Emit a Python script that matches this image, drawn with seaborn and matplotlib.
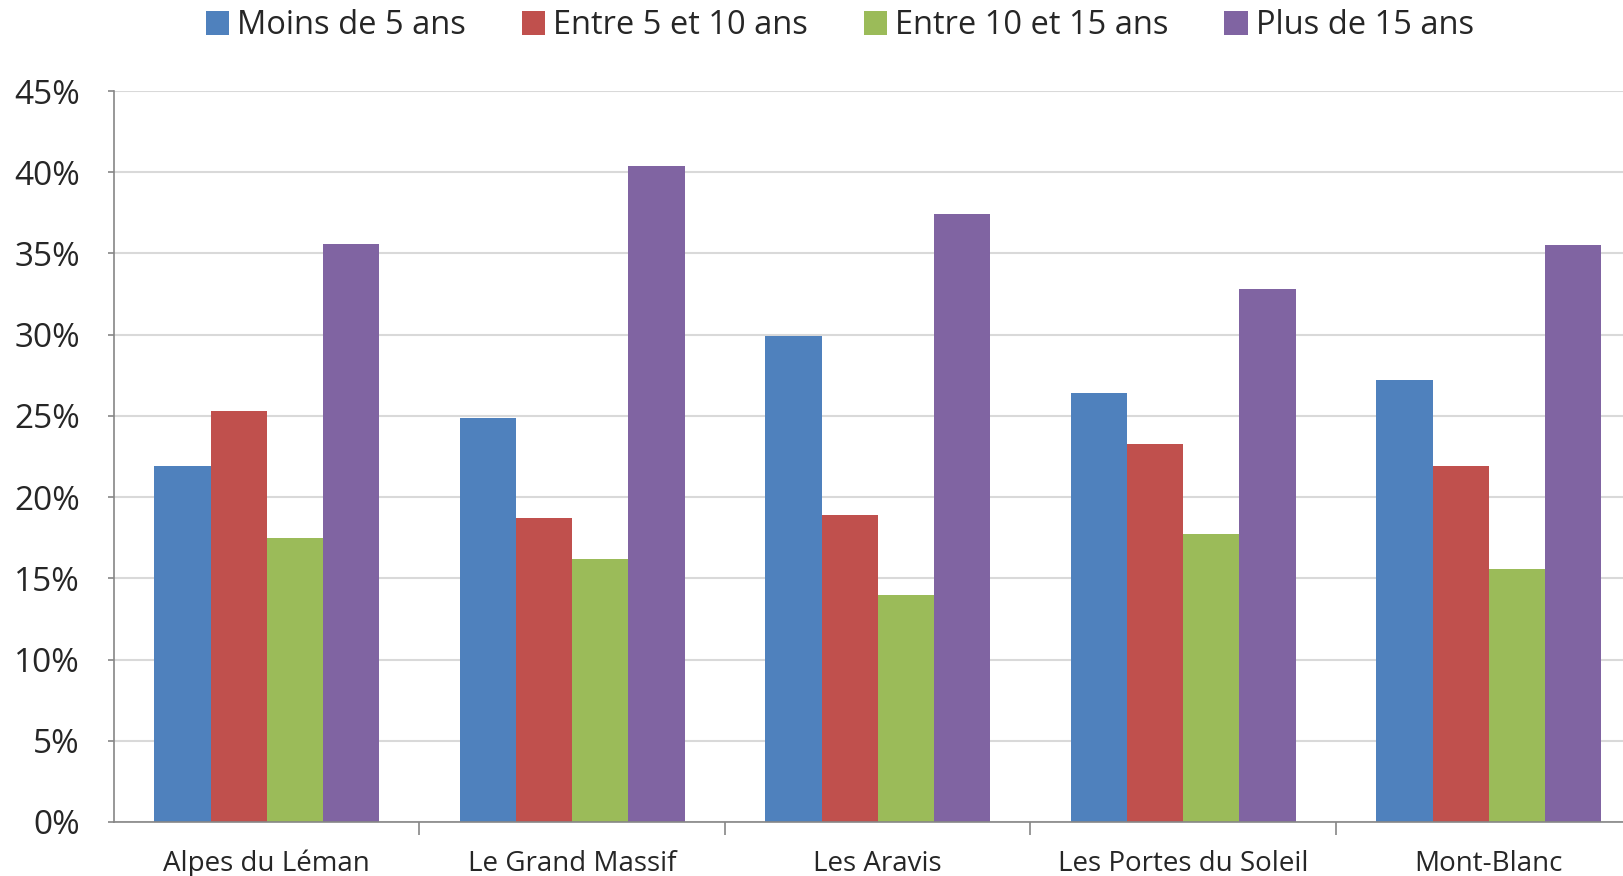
import pandas as pd
import matplotlib.pyplot as plt
import seaborn as sb

massifs = ["Alpes du Léman", "Le Grand Massif", "Les Aravis", "Les Portes du Soleil", "Mont-Blanc"]
tranches = ["Moins de 5 ans", "Entre 5 et 10 ans", "Entre 10 et 15 ans", "Plus de 15 ans"]
moins_5 = [21.9, 24.9, 29.9, 26.4, 27.2]
entre_5_10 = [25.3, 18.7, 18.9, 23.3, 21.9]
entre_10_15 = [17.5, 16.2, 14.0, 17.7, 15.6]
plus_15 = [35.6, 40.4, 37.4, 32.8, 35.5]
couleurs = ["#4F81BD", "#C0504D", "#9BBB59", "#8064A2"]

rows = []
for tranche, vals in zip(tranches, [moins_5, entre_5_10, entre_10_15, plus_15]):
    for m, v in zip(massifs, vals):
        rows.append({"massif": m, "tranche": tranche, "part": v})
df = pd.DataFrame(rows)

sb.set_style("white")
plt.rcParams["font.family"] = ["Open Sans", "DejaVu Sans"]

fig = plt.figure(figsize=(16.24, 8.76), dpi=100)
ax = fig.add_axes([114 / 1624, 1 - 822 / 876, 5 * 305.5 / 1624, (822 - 91) / 876])

sb.barplot(data=df, x="massif", y="part", hue="tranche", hue_order=tranches,
           palette=couleurs, width=0.735, saturation=1, ax=ax, linewidth=0)

ax.set_xlim(-0.5, 4.5)
ax.set_ylim(0, 45)
ax.set_yticks(range(0, 50, 5))
ax.set_yticklabels([f"{v}%" for v in range(0, 50, 5)])
ax.set_xlabel("")
ax.set_ylabel("")
ax.yaxis.grid(True, color="#d9d9d9", linewidth=1.5)
ax.set_axisbelow(True)

for s in ["top", "right"]:
    ax.spines[s].set_visible(False)
for s in ["left", "bottom"]:
    ax.spines[s].set_color("#868686")
    ax.spines[s].set_linewidth(1.2)

# ticks between groups, labels centred without a tick
ax.set_xticks([0.5, 1.5, 2.5, 3.5], minor=True)
ax.tick_params(axis="x", which="major", length=0, pad=20, labelsize=20)
ax.tick_params(axis="x", which="minor", length=9, color="#868686", width=1.2, direction="out", bottom=True)
ax.tick_params(axis="y", length=4.5, color="#868686", width=1.2, direction="out", labelsize=24, pad=20, left=True)

handles, labels = ax.get_legend_handles_labels()
ax.get_legend().remove()
fig.legend(handles, labels, loc="center", bbox_to_anchor=(840 / 1624, 1 - 26 / 876),
           ncol=4, frameon=False, fontsize=23.5, handlelength=0.72, handleheight=0.72,
           handletextpad=0.25, columnspacing=1.7)

plt.savefig("out.png", dpi=100)
